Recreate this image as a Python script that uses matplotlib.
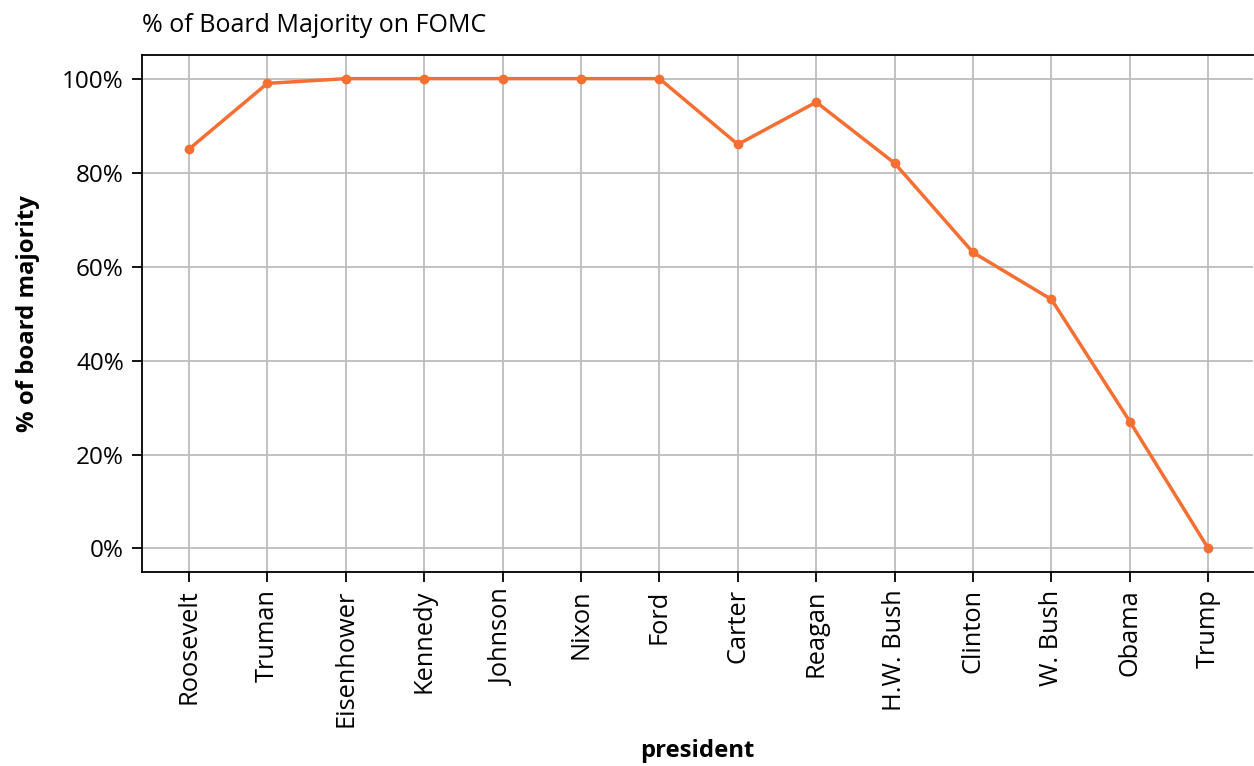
import matplotlib.pyplot as plt
from matplotlib.ticker import PercentFormatter

# data
presidents = ["Roosevelt", "Truman", "Eisenhower", "Kennedy", "Johnson", "Nixon", "Ford",
              "Carter", "Reagan", "H.W. Bush", "Clinton", "W. Bush", "Obama", "Trump"]
board_majority = [0.85, 0.99, 1.00, 1.00, 1.00, 1.00, 1.00,
                  0.86, 0.95, 0.82, 0.63, 0.53, 0.27, 0.00]

plt.rcParams['font.family'] = ['Open Sans', 'DejaVu Sans']

fig = plt.figure(figsize=(12.54, 7.66), dpi=100)
ax = fig.add_axes([0.1132, 0.2533, 0.8860, 0.6747])

x = range(len(presidents))
ax.plot(x, board_majority, color='#F56F33', linewidth=2.5, marker='o', markersize=6, zorder=3)

ax.set_xlim(-0.6, len(presidents) - 1 + 0.57)
ax.set_ylim(-0.05, 1.05)
ax.set_xticks(list(x))
ax.set_xticklabels(presidents, rotation=90, fontsize=18.3)
ax.set_yticks([0, 0.2, 0.4, 0.6, 0.8, 1.0])
ax.yaxis.set_major_formatter(PercentFormatter(1.0, decimals=0))
ax.tick_params(axis='y', labelsize=17.5, length=7, width=1.3, pad=6)
ax.tick_params(axis='x', length=7, width=1.3, pad=5.5)

ax.grid(True, color='#bdbdbd', linewidth=1.3)
ax.set_axisbelow(True)
for side in ['left', 'bottom', 'top']:
    ax.spines[side].set_linewidth(1.3)
ax.spines['right'].set_visible(False)

ax.set_title("% of Board Majority on FOMC", loc='left', fontsize=18, pad=17)
ax.set_ylabel("% of board majority", fontsize=17.2, fontweight='bold', labelpad=16)
ax.set_xlabel("president", fontsize=17.2, fontweight='bold', labelpad=9)

fig.savefig("out.png", dpi=100)
